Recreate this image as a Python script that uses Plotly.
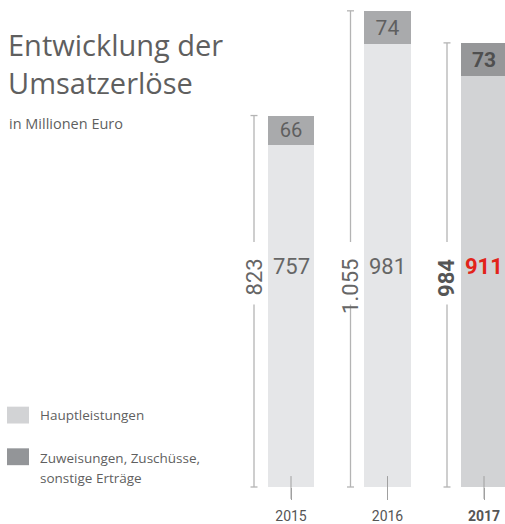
import plotly.graph_objects as go

years = ["2015", "2016", "2017"]
haupt = [757, 981, 911]
zuweis = [66, 74, 73]
totals = [823, 1055, 984]
total_labels = ["823", "1.055", "984"]

light = ["#e5e6e8", "#e5e6e8", "#d2d3d5"]
dark = ["#a9aaac", "#a9aaac", "#969799"]
W, H = 505, 524
PLOT_H = 491
xs = [0, 1, 2]
px_per_x = 96.5
x0 = -291 / px_per_x
x1 = x0 + W / px_per_x
ymax = 1079

fig = go.Figure()
fig.add_trace(go.Bar(x=xs, y=haupt, width=0.477, marker=dict(color=light, line=dict(width=0)),
                     hoverinfo="skip", showlegend=False))
fig.add_trace(go.Bar(x=xs, y=zuweis, width=0.477, marker=dict(color=dark, line=dict(width=0)),
                     text=[str(v) if i < 2 else "<b>%d</b>" % v for i, v in enumerate(zuweis)],
                     textposition="inside", insidetextanchor="middle", textangle=0,
                     textfont=dict(family="Roboto", size=21, color=["#5f5f5f", "#5f5f5f", "#4f4f4f"]),
                     hoverinfo="skip", showlegend=False))
fig.update_layout(barmode="stack")

off = 37 / px_per_x
for i, t in enumerate(totals):
    fig.add_trace(go.Scatter(x=[xs[i] - off, xs[i] - off], y=[0, t], mode="lines+markers",
                             line=dict(color="#b4b4b4", width=1.3),
                             marker=dict(symbol="line-ew", size=5, line=dict(color="#b4b4b4", width=1.3)),
                             cliponaxis=False, hoverinfo="skip", showlegend=False))

shapes = []
annotations = []
for i in range(3):
    xc = xs[i] - off
    shapes.append(dict(type="rect", xref="x", yref="paper", x0=xc - 4 / px_per_x, x1=xc + 4 / px_per_x,
                       y0=(PLOT_H - 307) / PLOT_H, y1=(PLOT_H - 244) / PLOT_H,
                       fillcolor="white", line=dict(width=0), layer="above"))
    bold = i == 2
    annotations.append(dict(x=xc, xref="x", y=(PLOT_H - 259) / PLOT_H, yref="paper",
                            text=("<b>%s</b>" % total_labels[i]) if bold else total_labels[i],
                            textangle=-90, showarrow=False, xanchor="center", yanchor="top",
                            font=dict(family="Roboto", size=22, color="#555555" if bold else "#666666")))
    annotations.append(dict(x=xs[i], xref="x", y=(PLOT_H - 269) / PLOT_H, yref="paper",
                            text=("<b>%d</b>" % haupt[i]) if bold else str(haupt[i]),
                            showarrow=False, xanchor="center", yanchor="middle",
                            font=dict(family="Roboto", size=22, color="#e2231a" if bold else "#666666")))
    shapes.append(dict(type="line", xref="x", yref="paper", x0=xs[i], x1=xs[i],
                       y0=(PLOT_H - 480) / PLOT_H, y1=(PLOT_H - 503) / PLOT_H,
                       line=dict(color="#a0a0a0", width=1), layer="above"))

annotations.append(dict(x=6 / W, xref="paper", y=(PLOT_H - 23) / PLOT_H, yref="paper",
                        text="Entwicklung der<br>Umsatzerlöse", align="left", showarrow=False,
                        xanchor="left", yanchor="top",
                        font=dict(family="Open Sans", size=29, color="#5f5f5f")))
annotations.append(dict(x=7 / W, xref="paper", y=(PLOT_H - 125) / PLOT_H, yref="paper",
                        text="in Millionen Euro", showarrow=False, xanchor="left", yanchor="middle",
                        font=dict(family="Open Sans", size=14.5, color="#5f5f5f")))
legend_items = [("#d2d3d5", 410, 427, ["Hauptleistungen"], [418]),
                ("#939598", 452, 469, ["Zuweisungen, Zuschüsse,", "sonstige Erträge"], [462, 482])]
for col, ya, yb, texts, ys in legend_items:
    shapes.append(dict(type="rect", xref="paper", yref="paper", x0=7 / W, x1=29 / W,
                       y0=(PLOT_H - yb) / PLOT_H, y1=(PLOT_H - ya) / PLOT_H,
                       fillcolor=col, line=dict(width=0)))
    for t, yy in zip(texts, ys):
        annotations.append(dict(x=38 / W, xref="paper", y=(PLOT_H - yy) / PLOT_H, yref="paper",
                                text=t, showarrow=False, xanchor="left", yanchor="middle",
                                font=dict(family="Open Sans", size=13.5, color="#5f5f5f")))

fig.update_layout(
    width=W, height=H, margin=dict(l=0, r=0, t=0, b=H - PLOT_H),
    paper_bgcolor="white", plot_bgcolor="white", bargap=0,
    xaxis=dict(range=[x0, x1], tickvals=xs,
               ticktext=[years[0], years[1], "<b>%s</b>" % years[2]],
               showgrid=False, zeroline=False, showline=False, ticks="outside", ticklen=12,
               tickcolor="#a0a0a0", ticklabelstandoff=4,
               tickfont=dict(family="Roboto", size=14, color="#555555"), fixedrange=True),
    yaxis=dict(range=[0, ymax], visible=False, fixedrange=True),
    shapes=shapes, annotations=annotations,
)
fig.write_html("out.html")
